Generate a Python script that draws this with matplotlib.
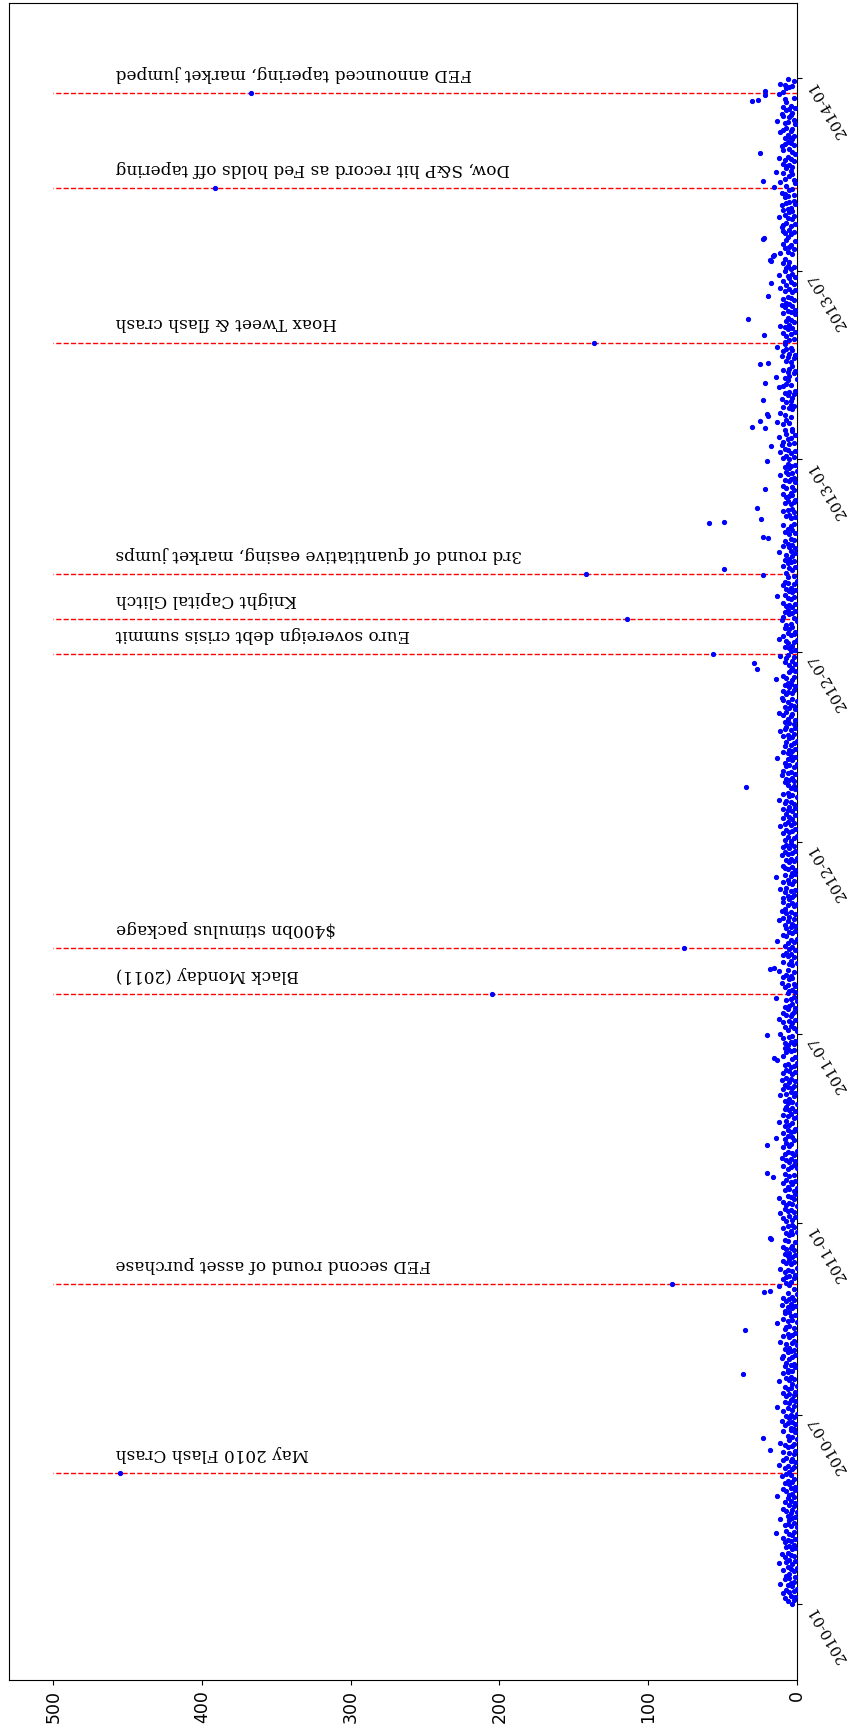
import matplotlib
matplotlib.use("Agg")
import matplotlib.pyplot as plt
import matplotlib.dates as mdates
import pandas as pd

# daily level per trading day, one hex digit per day (0-15)
DAILY_2010 = (
    "3628149527036b428517" "5294063c715824a63175" "28461935e27048625b31"
    "6407392518462d537194" "158362a47053826c1493" "7259146382b507361942"
    "48163a52740936d25814" "37259164803c52741963" "6184275a39164285073b"
    "25936148275d06394185" "8361a47259306482c517" "492751836b0472953618"
    "5274931682e537049263"
)
DAILY_2011 = (
    "73915b2648073592c461" "2850639417d528360492" "5174a283609514728e36"
    "94261853c72069415837" "063852b7149362851a47" "3915742860d351974268"
    "628419537b062843951c" "4739261853074e296153" "8162a539472c61835094"
    "2694715b3862d4079351" "741836c295174a826039" "59362841b735926e4813"
    "1683952740a638159274"
)
DAILY_2012 = (
    "4826095371b482639517" "369152847c0539614826" "82573a16492750836d14"
    "693518427053962b4817" "25816493c7158246093a" "73692518463e72951483"
    "5148372b69415836270c" "94261583740a62953816" "37519462d83517492680"
    "628473b51964285371c4" "159368247a5183649257" "841752963e4826175394"
    "2673915842b637058416" "3"
)
DAILY_2013 = (
    "59274b1683a52964c173" "836195d274086b359247" "47a362851c9473608e52"
    "619538b4726a159374d8" "38527c491638b5274a61" "946183a572946e3815b7"
    "2749516c38472695a381" "73b62854917d3648295a" "491736c2853964a17528"
    "628a539471b628539e47" "3759284c617395a28463" "8526b4937186d2594a37"
    "519473a826c4917538b2" "6"
)

# days well above the usual band
SPIKE_DATES = [
    "2010-05-28", "2010-06-09", "2010-08-09", "2010-09-20", "2010-10-27",
    "2010-10-28", "2010-12-16", "2010-12-17", "2011-02-14", "2011-02-18",
    "2011-03-16", "2011-06-08", "2011-06-30", "2011-09-01", "2011-09-02",
    "2012-02-22", "2012-06-14", "2012-06-20", "2012-09-12", "2012-09-18",
    "2012-10-18", "2012-10-19", "2012-11-01", "2012-11-02", "2012-11-05",
    "2012-11-16", "2012-12-04", "2012-12-31", "2013-01-14", "2013-01-31",
    "2013-02-01", "2013-02-07", "2013-02-12", "2013-02-14", "2013-02-27",
    "2013-03-15", "2013-04-02", "2013-04-03", "2013-04-30", "2013-05-16",
    "2013-06-07", "2013-06-19", "2013-07-10", "2013-07-11", "2013-07-15",
    "2013-07-16", "2013-07-31", "2013-08-01", "2013-09-19", "2013-09-25",
    "2013-10-22", "2013-12-10", "2013-12-11", "2013-12-16", "2013-12-20",
]
SPIKE_VALUES = [
    18, 23, 36, 35, 22,
    18, 17, 18, 16, 20,
    20, 15, 20, 18, 15,
    34, 27, 29, 23, 49,
    19, 23, 59, 49, 24,
    27, 21, 20, 17, 21,
    30, 25, 19, 20, 23,
    21, 25, 19, 22, 33,
    19, 17, 17, 18, 16,
    15, 23, 22, 15, 23,
    25, 30, 26, 21, 21,
]

EVENT_DATES = [
    "2010-05-06", "2010-11-03", "2011-08-08", "2011-09-21", "2012-06-29",
    "2012-08-01", "2012-09-13", "2013-04-23", "2013-09-18", "2013-12-18",
]
EVENT_VALUES = [455, 84, 205, 76, 56, 114, 142, 136, 391, 367]
EVENT_LABELS = [
    "May 2010 Flash Crash",
    "FED second round of asset purchase",
    "Black Monday (2011)",
    "$400bn stimulus package",
    "Euro sovereign debt crisis summit",
    "Knight Capital Glitch",
    "3rd round of quantitative easing, market jumps",
    "Hoax Tweet & flash crash",
    "Dow, S&P hit record as Fed holds off tapering",
    "FED announced tapering, market jumped",
]


def build_series():
    parts = []
    for year, digits in [(2010, DAILY_2010), (2011, DAILY_2011),
                         (2012, DAILY_2012), (2013, DAILY_2013)]:
        days = pd.bdate_range(f"{year}-01-01", f"{year}-12-31")
        parts.append(pd.Series([int(c, 16) for c in digits][:len(days)],
                               index=days[:len(digits)], dtype=float))
    series = pd.concat(parts)
    for d, v in zip(SPIKE_DATES, SPIKE_VALUES):
        series.loc[pd.Timestamp(d)] = v
    for d, v in zip(EVENT_DATES, EVENT_VALUES):
        series.loc[pd.Timestamp(d)] = v
    return series.sort_index()


series = build_series()

fig = plt.figure(figsize=(8.53, 17.26), dpi=100)
ax = fig.add_axes([0.0102, 0.0267, 0.9238, 0.9714])

ax.plot(series.values, series.index, "b.", markersize=5.5, zorder=3)
for d in EVENT_DATES:
    ax.hlines(pd.Timestamp(d), 0, 500, colors="r", linestyles="--", linewidth=1.0, zorder=2)

for d, label in zip(EVENT_DATES, EVENT_LABELS):
    ax.annotate(label, xy=(458, pd.Timestamp(d)), xytext=(0, 8),
                textcoords="offset points", rotation=180,
                ha="left", va="bottom", family="DejaVu Serif", fontsize=12.2)

ax.set_xlim(530, 0)
ax.set_xticks([0, 100, 200, 300, 400, 500])
for lab in ax.get_xticklabels():
    lab.set_rotation(90)
    lab.set_fontsize(12.5)

ax.yaxis.tick_right()
ax.yaxis.set_major_locator(mdates.MonthLocator(bymonth=(1, 7)))
ax.yaxis.set_major_formatter(mdates.DateFormatter("%Y-%m"))
for lab in ax.get_yticklabels():
    lab.set_rotation(120)
    lab.set_ha("left")
    lab.set_va("top")
    lab.set_family("DejaVu Serif")
    lab.set_fontsize(10.8)

fig.savefig("out.png", dpi=100)
